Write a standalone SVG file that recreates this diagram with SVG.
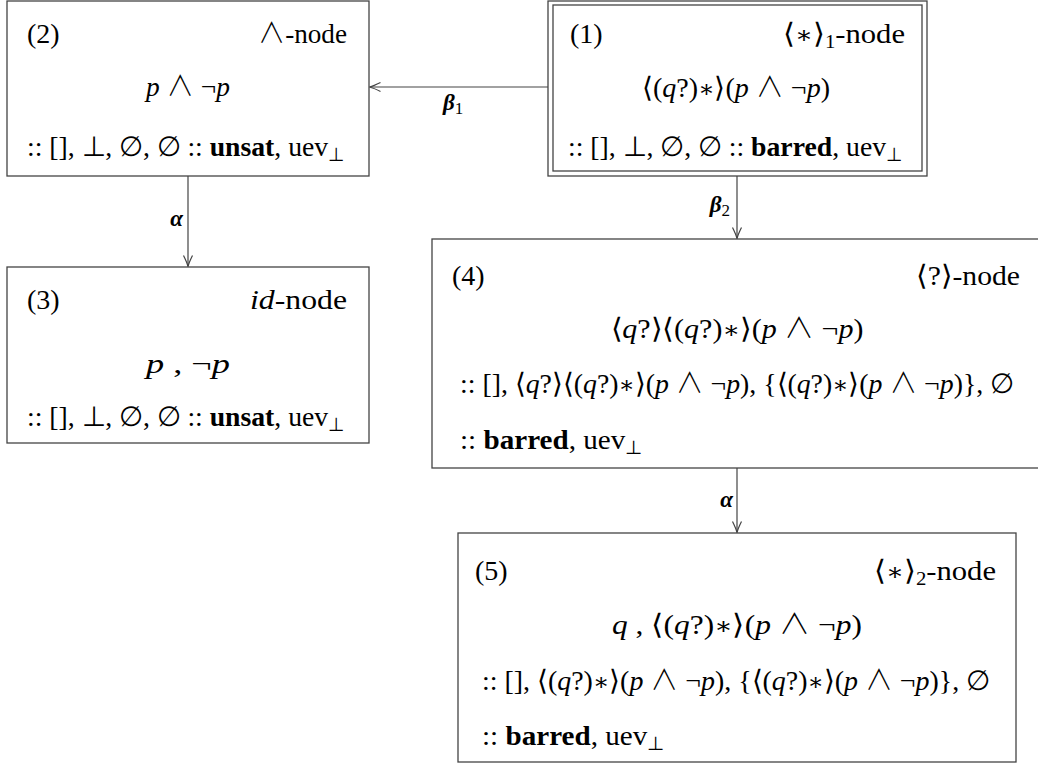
<svg xmlns="http://www.w3.org/2000/svg" width="1038" height="767" viewBox="0 0 1038 767">
<defs>
<style>
.box{fill:#fff;stroke:#444;stroke-width:1.3}
.t{font-family:"Liberation Serif","DejaVu Serif","DejaVu Sans",serif;font-size:28px;fill:#000}
.i{font-style:italic}
.b{font-weight:bold}
.m{font-family:"DejaVu Sans",sans-serif;font-weight:200}
.s{font-family:"DejaVu Serif",serif;font-weight:normal;font-size:24px}
.a{font-family:"Noto Sans CJK JP","Noto Sans CJK SC","DejaVu Sans",sans-serif;font-weight:300}
.edge{fill:none;stroke:#444;stroke-width:1.2;marker-end:url(#arr)}
.lbl{font-family:"Liberation Serif","DejaVu Serif",serif;font-size:23px;font-weight:bold;font-style:italic;fill:#000}
.sub{font-size:17px;font-weight:normal;font-style:normal}
</style>
<marker id="arr" viewBox="-12 -6 14 12" refX="0" refY="0" markerWidth="14" markerHeight="12" markerUnits="userSpaceOnUse" orient="auto">
<path d="M-11,-4.5 Q-4,-1 0,0 Q-4,1 -11,4.5" fill="none" stroke="#444" stroke-width="1.2"/>
</marker>
</defs>
<rect width="1038" height="767" fill="#fff"/>

<g id="edges">
<line class="edge" x1="548" y1="87" x2="369.5" y2="87"/>
<line class="edge" x1="188" y1="176" x2="188" y2="266.5"/>
<line class="edge" x1="737" y1="176" x2="737" y2="238.5"/>
<line class="edge" x1="737" y1="468" x2="737" y2="532.5"/>
<text class="lbl" x="443" y="110">β<tspan class="sub" dy="4">1</tspan></text>
<text class="lbl" x="730" y="212" text-anchor="end">β<tspan class="sub" dy="4">2</tspan></text>
<text class="lbl" x="183" y="226" text-anchor="end">α</text>
<text class="lbl" x="733" y="507" text-anchor="end">α</text>
</g>

<g id="node1">
<rect class="box" x="548" y="1" width="379" height="175"/>
<rect class="box" x="553" y="5" width="369" height="166"/>
<text class="t" x="570" y="43">(1)</text>
<text class="t" x="905" y="43" text-anchor="end" textLength="122" lengthAdjust="spacingAndGlyphs"><tspan class="m">⟨</tspan><tspan class="s">∗</tspan><tspan class="m">⟩</tspan><tspan font-size="19" dy="5">1</tspan><tspan dy="-5">-node</tspan></text>
<text class="t" x="736" y="97" text-anchor="middle" textLength="188" lengthAdjust="spacingAndGlyphs"><tspan class="m">⟨</tspan>(<tspan class="i">q</tspan>?)<tspan class="s">∗</tspan><tspan class="m">⟩</tspan>(<tspan class="i">p</tspan> <tspan class="a">∧</tspan> ¬<tspan class="i">p</tspan>)</text>
<text class="t" x="568" y="156" textLength="335" lengthAdjust="spacingAndGlyphs">:: [], <tspan class="m">⊥</tspan>, <tspan class="m">∅</tspan>, <tspan class="m">∅</tspan> :: <tspan class="b">barred</tspan>, uev<tspan class="m" font-size="19" dy="5">⊥</tspan></text>
</g>

<g id="node2">
<rect class="box" x="7" y="1" width="362" height="175"/>
<text class="t" x="27" y="43">(2)</text>
<text class="t" x="347" y="43" text-anchor="end" textLength="89" lengthAdjust="spacingAndGlyphs"><tspan class="a">∧</tspan>-node</text>
<text class="t" x="188" y="96" text-anchor="middle" textLength="84" lengthAdjust="spacingAndGlyphs"><tspan class="i">p</tspan> <tspan class="a">∧</tspan> ¬<tspan class="i">p</tspan></text>
<text class="t" x="27" y="156" textLength="318" lengthAdjust="spacingAndGlyphs">:: [], <tspan class="m">⊥</tspan>, <tspan class="m">∅</tspan>, <tspan class="m">∅</tspan> :: <tspan class="b">unsat</tspan>, uev<tspan class="m" font-size="19" dy="5">⊥</tspan></text>
</g>

<g id="node3">
<rect class="box" x="7" y="267" width="362" height="176"/>
<text class="t" x="27" y="309">(3)</text>
<text class="t" x="347" y="309" text-anchor="end" textLength="97" lengthAdjust="spacingAndGlyphs"><tspan class="i">id</tspan>-node</text>
<text class="t" x="188" y="373" text-anchor="middle" textLength="84" lengthAdjust="spacingAndGlyphs"><tspan class="i">p</tspan> ,  ¬<tspan class="i">p</tspan></text>
<text class="t" x="27" y="426" textLength="318" lengthAdjust="spacingAndGlyphs">:: [], <tspan class="m">⊥</tspan>, <tspan class="m">∅</tspan>, <tspan class="m">∅</tspan> :: <tspan class="b">unsat</tspan>, uev<tspan class="m" font-size="19" dy="5">⊥</tspan></text>
</g>

<g id="node4">
<rect class="box" x="432" y="239" width="610" height="229"/>
<text class="t" x="452" y="285">(4)</text>
<text class="t" x="1020" y="285" text-anchor="end" textLength="104" lengthAdjust="spacingAndGlyphs"><tspan class="m">⟨</tspan>?<tspan class="m">⟩</tspan>-node</text>
<text class="t" x="737" y="338" text-anchor="middle" textLength="253" lengthAdjust="spacingAndGlyphs"><tspan class="m">⟨</tspan><tspan class="i">q</tspan>?<tspan class="m">⟩⟨</tspan>(<tspan class="i">q</tspan>?)<tspan class="s">∗</tspan><tspan class="m">⟩</tspan>(<tspan class="i">p</tspan> <tspan class="a">∧</tspan> ¬<tspan class="i">p</tspan>)</text>
<text class="t" x="460" y="393" textLength="554" lengthAdjust="spacingAndGlyphs">:: [], <tspan class="m">⟨</tspan><tspan class="i">q</tspan>?<tspan class="m">⟩⟨</tspan>(<tspan class="i">q</tspan>?)<tspan class="s">∗</tspan><tspan class="m">⟩</tspan>(<tspan class="i">p</tspan> <tspan class="a">∧</tspan> ¬<tspan class="i">p</tspan>), {<tspan class="m">⟨</tspan>(<tspan class="i">q</tspan>?)<tspan class="s">∗</tspan><tspan class="m">⟩</tspan>(<tspan class="i">p</tspan> <tspan class="a">∧</tspan> ¬<tspan class="i">p</tspan>)}, <tspan class="m">∅</tspan></text>
<text class="t" x="460" y="449" textLength="183" lengthAdjust="spacingAndGlyphs">:: <tspan class="b">barred</tspan>, uev<tspan class="m" font-size="19" dy="5">⊥</tspan></text>
</g>

<g id="node5">
<rect class="box" x="458" y="533" width="558" height="229"/>
<text class="t" x="475" y="580">(5)</text>
<text class="t" x="996" y="580" text-anchor="end" textLength="122" lengthAdjust="spacingAndGlyphs"><tspan class="m">⟨</tspan><tspan class="s">∗</tspan><tspan class="m">⟩</tspan><tspan font-size="19" dy="5">2</tspan><tspan dy="-5">-node</tspan></text>
<text class="t" x="737" y="634" text-anchor="middle" textLength="250" lengthAdjust="spacingAndGlyphs"><tspan class="i">q</tspan> ,  <tspan class="m">⟨</tspan>(<tspan class="i">q</tspan>?)<tspan class="s">∗</tspan><tspan class="m">⟩</tspan>(<tspan class="i">p</tspan> <tspan class="a">∧</tspan> ¬<tspan class="i">p</tspan>)</text>
<text class="t" x="482" y="690" textLength="508" lengthAdjust="spacingAndGlyphs">:: [], <tspan class="m">⟨</tspan>(<tspan class="i">q</tspan>?)<tspan class="s">∗</tspan><tspan class="m">⟩</tspan>(<tspan class="i">p</tspan> <tspan class="a">∧</tspan> ¬<tspan class="i">p</tspan>), {<tspan class="m">⟨</tspan>(<tspan class="i">q</tspan>?)<tspan class="s">∗</tspan><tspan class="m">⟩</tspan>(<tspan class="i">p</tspan> <tspan class="a">∧</tspan> ¬<tspan class="i">p</tspan>)}, <tspan class="m">∅</tspan></text>
<text class="t" x="482" y="745" textLength="183" lengthAdjust="spacingAndGlyphs">:: <tspan class="b">barred</tspan>, uev<tspan class="m" font-size="19" dy="5">⊥</tspan></text>
</g>
</svg>
